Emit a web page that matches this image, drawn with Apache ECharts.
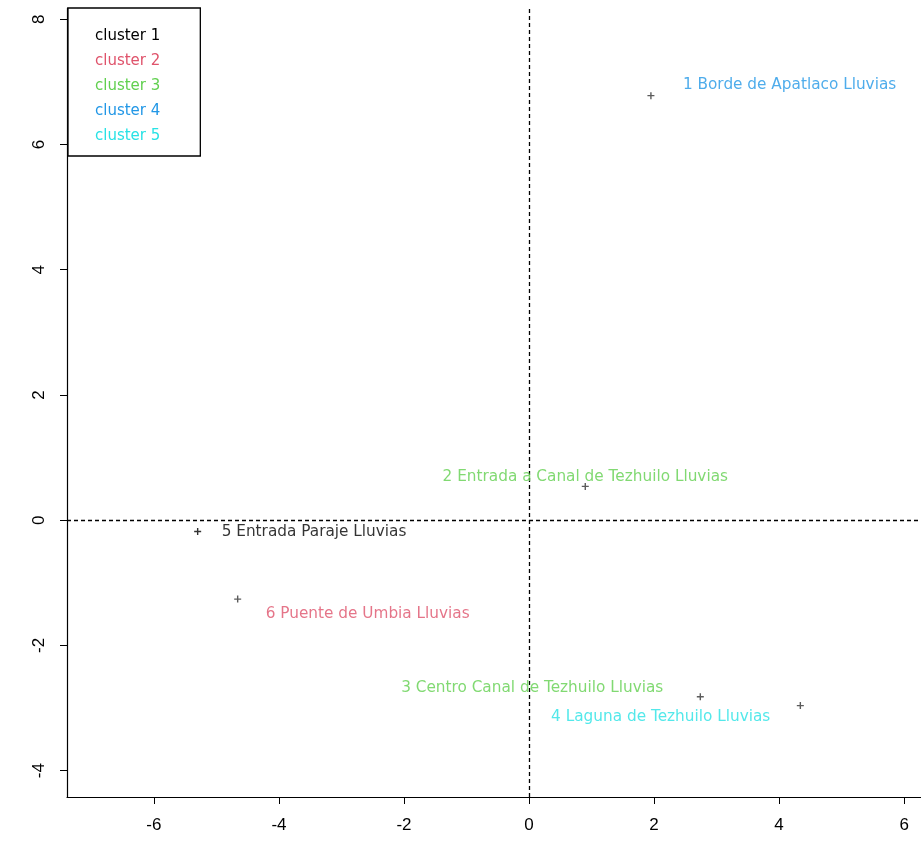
<!DOCTYPE html>
<html>
<head>
<meta charset="utf-8">
<script src="https://cdn.jsdelivr.net/npm/echarts@6/dist/echarts.min.js"></script>
<style>html,body{margin:0;padding:0;background:#fff}#c{width:921px;height:845px}</style>
</head>
<body>
<div id="c"></div>
<script>
// ---- data ----
const pointNames = [
  "1 Borde de Apatlaco Lluvias",
  "2 Entrada a Canal de Tezhuilo Lluvias",
  "3 Centro Canal de Tezhuilo Lluvias",
  "4 Laguna de Tezhuilo Lluvias",
  "5 Entrada Paraje Lluvias",
  "6 Puente de Umbia Lluvias"
];
const xValues = [1.95, 0.90, 2.74, 4.34, -5.30, -4.66];
const yValues = [6.78, 0.54, -2.82, -2.96, -0.18, -1.26];
const clusterOf = [4, 3, 3, 5, 1, 2];
const clusterNames = ["cluster 1", "cluster 2", "cluster 3", "cluster 4", "cluster 5"];

// ---- styles ----
const clusterColors = ["#000000", "#DF536B", "#61D04F", "#2297E6", "#28E2E5"];
const labelStyle = [
  {align: "left",   offset: [32, -11]},
  {align: "center", offset: [0, -9]},
  {align: "right",  offset: [-37, -9]},
  {align: "right",  offset: [-30, 11]},
  {align: "left",   offset: [24, 1]},
  {align: "left",   offset: [28, 15]}
];
const plusPath = "path://M2,0H3V2H5V3H3V5H2V3H0V2H2Z";
const FONT = "DejaVu Sans";

const series = clusterNames.map((name, ci) => {
  const data = [];
  pointNames.forEach((pn, i) => {
    if (clusterOf[i] === ci + 1) {
      data.push({
        value: [xValues[i], yValues[i]],
        name: pn,
        label: {
          show: true,
          position: "inside",
          formatter: pn,
          align: labelStyle[i].align,
          verticalAlign: "middle",
          offset: labelStyle[i].offset,
          color: clusterColors[ci],
          fontFamily: FONT,
          fontSize: 15.3
        }
      });
    }
  });
  const s = {
    type: "scatter",
    name: name,
    data: data,
    symbol: plusPath,
    symbolSize: 7,
    itemStyle: {color: ci === 0 ? "#000" : "#333"},
    emphasis: {disabled: true},
    z: 3
  };
  if (ci === 0) {
    s.markLine = {
      silent: true,
      symbol: "none",
      label: {show: false},
      lineStyle: {type: [4, 3], color: "#000", width: 1.3},
      data: [{xAxis: 0}, {yAxis: 0}],
      z: 1
    };
  }
  return s;
});

const chart = echarts.init(document.getElementById("c"), null, {renderer: "canvas"});
chart.setOption({
  animation: false,
  backgroundColor: "#fff",
  grid: {left: 67, top: 8, right: 0, bottom: 48, containLabel: false},
  legend: {
    orient: "vertical",
    left: 68, top: 8,
    padding: [21, 40, 12, 22],
    itemWidth: 0, itemHeight: 0, itemGap: 10,
    borderColor: "#000", borderWidth: 1.3,
    backgroundColor: "#fff",
    selectedMode: false,
    data: clusterNames.map((n, i) => ({name: n, icon: "none", textStyle: {color: clusterColors[i]}})),
    textStyle: {fontFamily: FONT, fontSize: 15, lineHeight: 14}
  },
  xAxis: {
    type: "value",
    min: -7.39, max: 6.27,
    splitNumber: 7,
    axisLine: {show: true, onZero: false, lineStyle: {color: "#000", width: 1.2}},
    axisTick: {show: true, inside: false, length: 7, lineStyle: {color: "#000"}},
    axisLabel: {margin: 20, color: "#000", fontFamily: "Liberation Sans", fontSize: 17, showMinLabel: false, showMaxLabel: false,
      formatter: v => (Math.abs(v - Math.round(v)) < 1e-6 ? String(Math.round(v)) : "")},
    splitLine: {show: false}
  },
  yAxis: {
    type: "value",
    min: -4.42, max: 8.18,
    splitNumber: 6,
    axisLine: {show: true, onZero: false, lineStyle: {color: "#000", width: 1.2}},
    axisTick: {show: true, inside: false, length: 7, lineStyle: {color: "#000"}},
    axisLabel: {rotate: 90, margin: 19, color: "#000", fontFamily: "Liberation Sans", fontSize: 17, showMinLabel: false, showMaxLabel: false,
      formatter: v => (Math.abs(v - Math.round(v)) < 1e-6 ? String(Math.round(v)) : "")},
    splitLine: {show: false}
  },
  series: series
});
</script>
</body>
</html>
